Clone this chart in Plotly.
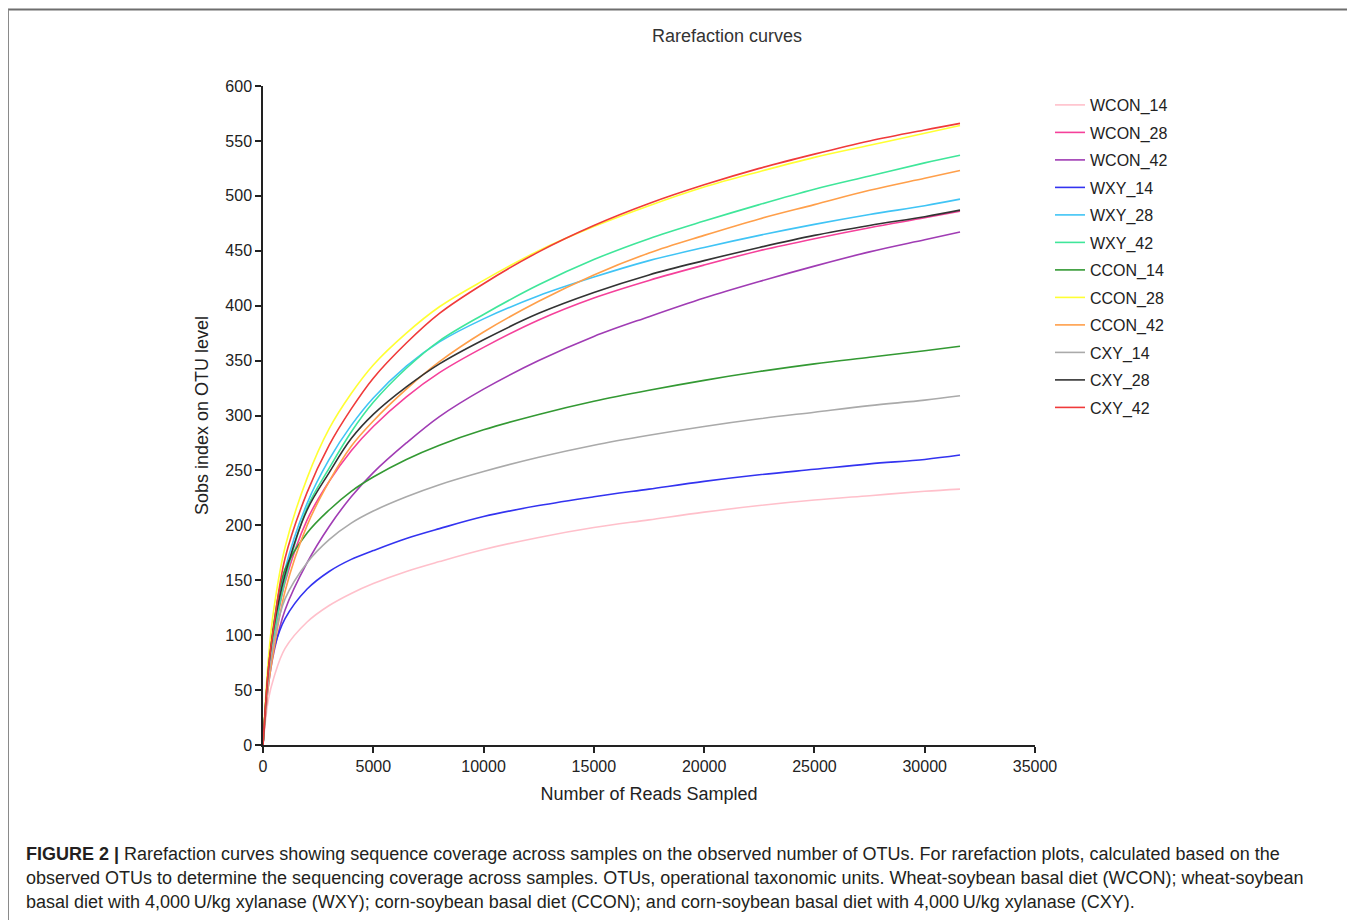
import plotly.graph_objects as go

# ---------------- data ----------------
reads = [0, 250, 500, 1000, 2000, 3000, 4000, 5000, 6500, 8000, 10000,
         12500, 15000, 17500, 20000, 22500, 25000, 27500, 30000, 31600]

series_names = ["WCON_14", "WCON_28", "WCON_42", "WXY_14", "WXY_28", "WXY_42",
                "CCON_14", "CCON_28", "CCON_42", "CXY_14", "CXY_28", "CXY_42"]

WCON_14 = [0, 42, 62, 88, 112, 127, 138, 147, 158, 167, 178, 189, 198, 205, 212, 218, 223, 227, 231, 233]
WCON_28 = [0, 62, 98, 148, 205, 240, 268, 290, 317, 339, 362, 387, 407, 423, 437, 450, 461, 471, 480, 486]
WCON_42 = [0, 55, 85, 123, 166, 199, 226, 248, 275, 299, 324, 350, 372, 390, 407, 422, 436, 449, 460, 467]
WXY_14 = [0, 62, 88, 115, 142, 158, 169, 177, 188, 197, 208, 218, 226, 233, 240, 246, 251, 256, 260, 264]
WXY_28 = [0, 68, 105, 160, 220, 260, 291, 316, 345, 367, 388, 409, 426, 441, 453, 464, 474, 483, 491, 497]
WXY_42 = [0, 65, 100, 150, 216, 252, 285, 312, 343, 368, 392, 419, 442, 461, 477, 492, 506, 518, 530, 537]
CCON_14 = [0, 70, 112, 160, 193, 214, 231, 244, 260, 273, 287, 301, 313, 323, 332, 340, 347, 353, 359, 363]
CCON_28 = [0, 80, 125, 180, 243, 288, 320, 346, 375, 399, 423, 450, 472, 491, 508, 522, 535, 546, 557, 564]
CCON_42 = [0, 55, 88, 140, 200, 240, 272, 295, 324, 349, 376, 404, 428, 448, 464, 479, 492, 505, 516, 523]
CXY_14 = [0, 60, 95, 133, 166, 187, 202, 213, 226, 237, 249, 262, 273, 282, 290, 297, 303, 309, 314, 318]
CXY_28 = [0, 70, 108, 155, 214, 248, 279, 301, 326, 347, 369, 393, 412, 428, 441, 453, 464, 473, 481, 487]
CXY_42 = [0, 70, 110, 170, 230, 273, 306, 334, 366, 393, 420, 449, 473, 493, 510, 525, 538, 550, 560, 566]

series_values = [WCON_14, WCON_28, WCON_42, WXY_14, WXY_28, WXY_42,
                 CCON_14, CCON_28, CCON_42, CXY_14, CXY_28, CXY_42]

series_colors = ["#FFC0CB", "#F5409A", "#A03CB4", "#3333F0", "#40C4F5", "#3FE69A",
                 "#339933", "#FFFF33", "#FF9F4A", "#AAAAAA", "#333333", "#F03A3A"]

x_ticks = [0, 5000, 10000, 15000, 20000, 25000, 30000, 35000]
y_ticks = list(range(0, 601, 50))

title_text = "Rarefaction curves"
x_title = "Number of Reads Sampled"
y_title = "Sobs index on OTU level"
caption_lines = [
    "<b>FIGURE 2 |</b> Rarefaction curves showing sequence coverage across samples on the observed number of OTUs. For rarefaction plots, calculated based on the",
    "observed OTUs to determine the sequencing coverage across samples. OTUs, operational taxonomic units. Wheat-soybean basal diet (WCON); wheat-soybean",
    "basal diet with 4,000\u2009U/kg xylanase (WXY); corn-soybean basal diet (CCON); and corn-soybean basal diet with 4,000\u2009U/kg xylanase (CXY).",
]

# ---------------- layout geometry (page body adds an 8 px offset) ----------------
OFF = 8
W, H = 1355 - OFF, 920 - OFF
L, R_, T, B = 263 - OFF, 1035 - OFF, 86 - OFF, 745 - OFF   # plot area in figure pixels


def px(x):
    """screen x pixel -> paper coordinate"""
    return (x - OFF - L) / (R_ - L)


def py(y):
    """screen y pixel -> paper coordinate"""
    return (B - (y - OFF)) / (B - T)


FONT = "Liberation Sans, Arial, sans-serif"

fig = go.Figure()
for name, vals, col in zip(series_names, series_values, series_colors):
    fig.add_trace(go.Scatter(
        x=reads, y=vals, mode="lines", name=name, legendgroup=name,
        line=dict(color=col, width=1.6, shape="spline", smoothing=1.0),
        hoverinfo="x+y+name",
    ))

axis_common = dict(
    showline=True, linecolor="#222222", linewidth=1.5,
    ticks="outside", ticklen=6, tickwidth=1.5, tickcolor="#222222",
    showgrid=False, zeroline=False,
    tickfont=dict(family=FONT, size=16, color="#222222"),
    title_font=dict(family=FONT, size=18, color="#222222"),
)

fig.update_xaxes(range=[0, 35000], tickvals=x_ticks, ticktext=[str(t) for t in x_ticks],
                 title_text=x_title, title_standoff=13, **axis_common)
fig.update_yaxes(range=[0, 600], tickvals=y_ticks, ticktext=[str(t) for t in y_ticks],
                 title_text=y_title, title_standoff=12, **axis_common)

annotations = []
cap_y = [854, 878, 902]
for line, yy in zip(caption_lines, cap_y):
    annotations.append(dict(
        text=line, xref="paper", yref="paper", x=px(24), y=py(yy),
        xanchor="left", yanchor="middle", showarrow=False,
        font=dict(family=FONT, size=18, color="#231F20"), align="left",
    ))

shapes = [
    dict(type="line", xref="paper", yref="paper", x0=px(8), x1=px(1354), y0=py(9.5), y1=py(9.5),
         line=dict(color="#6E6E6E", width=2)),
    dict(type="line", xref="paper", yref="paper", x0=px(8.5), x1=px(8.5), y0=py(9.5), y1=py(925),
         line=dict(color="#8A8A8A", width=1)),
    dict(type="line", xref="paper", yref="paper", x0=px(1353), x1=px(1353), y0=py(9.5), y1=py(925),
         line=dict(color="#D0D0D0", width=1.5)),
]

fig.update_layout(
    width=W, height=H,
    margin=dict(l=L, r=W - R_, t=T, b=H - B, autoexpand=False),
    paper_bgcolor="white", plot_bgcolor="white",
    font=dict(family=FONT, color="#222222"),
    title=dict(text=title_text, x=(727 - OFF) / W, y=1 - (36 - OFF) / H,
               xref="container", yref="container",
               xanchor="center", yanchor="middle",
               font=dict(family=FONT, size=18, color="#333333")),
    showlegend=True,
    legend=dict(x=px(1050), y=py(88), xanchor="left", yanchor="top",
                font=dict(family=FONT, size=16, color="#222222"),
                tracegroupgap=3.7, bgcolor="rgba(0,0,0,0)", itemwidth=30),
    annotations=annotations,
    shapes=shapes,
)

fig.write_html("out.html")
